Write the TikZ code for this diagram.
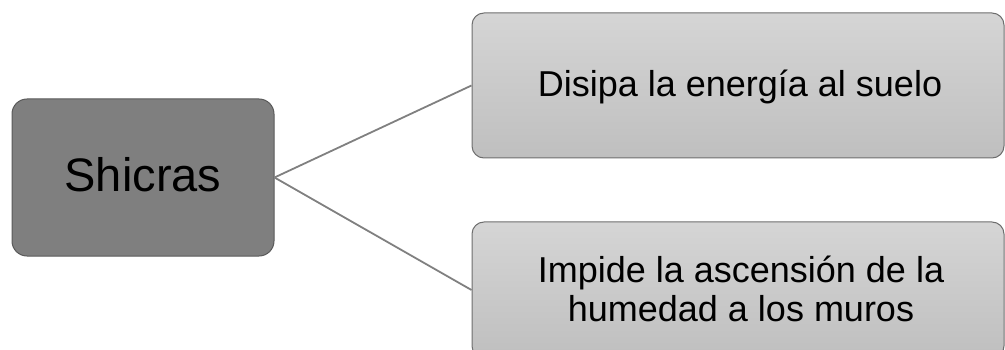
\documentclass[tikz,border=0pt]{standalone}
\usepackage{fontspec}
\setmainfont{Liberation Sans}
\definecolor{darkbox}{HTML}{7F7F7F}
\definecolor{darkedge}{HTML}{5A5A5A}
\definecolor{lighttop}{HTML}{D5D5D5}
\definecolor{lightbot}{HTML}{BFBFBF}
\definecolor{lightedge}{HTML}{6E6E6E}
\definecolor{linkcol}{HTML}{808080}
\tikzset{
  mainbox/.style={draw=darkedge, fill=darkbox, rounded corners=15pt, line width=1pt, minimum width=262pt, minimum height=157pt, inner sep=0pt},
  leafbox/.style={draw=lightedge, top color=lighttop, bottom color=lightbot, rounded corners=12pt, line width=1pt, minimum width=532pt, inner sep=0pt},
  link/.style={draw=linkcol, line width=1.8pt},
  bigtxt/.style={anchor=base, font=\fontsize{47}{50}\selectfont, inner sep=0pt},
  leaftxt/.style={anchor=base, font=\fontsize{36}{39}\selectfont, inner sep=0pt, align=center}
}
\begin{document}
\begin{tikzpicture}[x=1pt, y=-1pt]
\useasboundingbox (0,0) rectangle (1005,350);
\node[mainbox] (root) at (143,177.5) {};
\node[leafbox, minimum height=145pt] (top) at (738,85.5) {};
\node[leafbox, minimum height=136pt] (bot) at (738,290) {};
\draw[link] (root.east) -- (top.west);
\draw[link] (root.east) -- (bot.west);
\node[bigtxt] (t1) at (143,192) {Shicras};
\node[leaftxt] (t2) at (740,97) {Disipa la energía al suelo};
\node[leaftxt] (t3) at (741,282) {Impide la ascensión de la};
\node[leaftxt] (t4) at (741,321) {humedad a los muros};
\end{tikzpicture}
\end{document}
